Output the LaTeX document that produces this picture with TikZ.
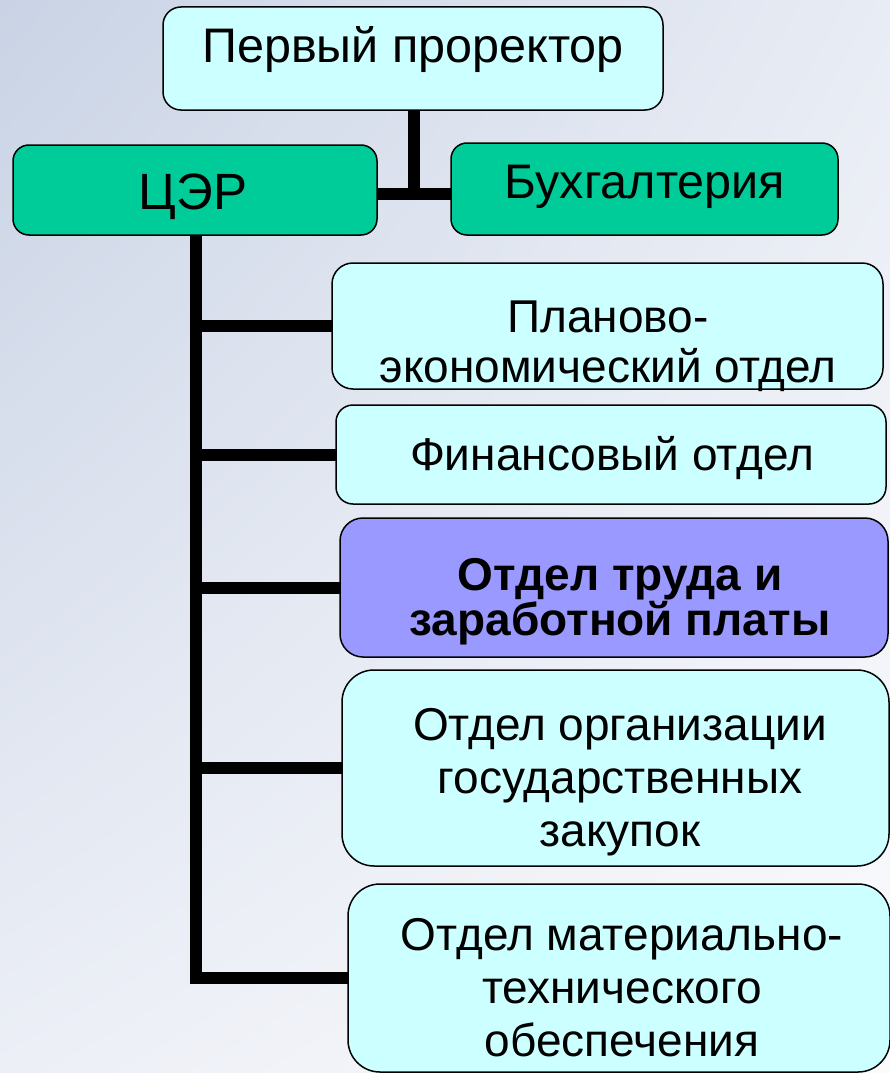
\documentclass[tikz,border=0pt]{standalone}
\usepackage{fontspec}
\setmainfont{Liberation Sans}
\usetikzlibrary{shadings}
\definecolor{cyanbox}{HTML}{CCFFFF}
\definecolor{greenbox}{HTML}{00CC99}
\definecolor{purplebox}{HTML}{9999FF}
\definecolor{bgA}{RGB}{201,211,229}
\definecolor{bgB}{RGB}{232,236,244}
\definecolor{bgC}{RGB}{236,239,246}
\definecolor{bgD}{RGB}{251,251,253}
\begin{document}
\begin{tikzpicture}[x=1pt,y=-1pt,
  box/.style={draw=black,line width=1.5pt,rounded corners=#1,inner sep=0pt,outer sep=0pt,anchor=north west},
  box/.default=18pt,
  lbl/.style={anchor=base,inner sep=0pt,font=\fontsize{46}{53}\selectfont},
  toplbl/.style={anchor=base,inner sep=0pt,font=\fontsize{48.5}{55}\selectfont},
  conn/.style={line width=12pt,black,line join=miter,line cap=butt}]
\useasboundingbox (0,0) rectangle (890,1073);
\shade[upper left=bgA,upper right=bgB,lower left=bgC,lower right=bgD] (0,0) rectangle (890,1073);

% boxes
\node[box=18pt,fill=cyanbox,minimum width=500pt,minimum height=103pt] (pp) at (163,7) {};
\node[box=16pt,fill=greenbox,minimum width=364pt,minimum height=90pt] (cer) at (13,145) {};
\node[box=16pt,fill=greenbox,minimum width=387pt,minimum height=92pt] (buh) at (451,143) {};
\node[box=21pt,fill=cyanbox,minimum width=551pt,minimum height=126pt] (plan) at (332,263) {};
\node[box=17pt,fill=cyanbox,minimum width=550pt,minimum height=99pt] (fin) at (336,405) {};
\node[box=23pt,fill=purplebox,minimum width=548pt,minimum height=139pt] (trud) at (340,518) {};
\node[box=32pt,fill=cyanbox,minimum width=547pt,minimum height=196pt] (org) at (342,670) {};
\node[box=32pt,fill=cyanbox,minimum width=542pt,minimum height=188pt] (mat) at (348,884) {};

% texts
\node[toplbl] (pptxt) at (413,63) {Первый проректор};
\node[toplbl,font=\fontsize{51}{58}\selectfont] (certxt) at (193,209) {ЦЭР};
\node[toplbl] (buhtxt) at (645,198) {Бухгалтерия};
\node[lbl] (plantxt) at (608,332) {\begin{tabular}[t]{@{}c@{}}Планово-\\[-3pt]экономический отдел\end{tabular}};
\node[lbl] (fintxt) at (612,470) {Финансовый отдел};
\node[lbl] (trudtxt) at (620,590) {\bfseries\begin{tabular}[t]{@{}c@{}}Отдел труда и\\[-8pt]заработной платы\end{tabular}};
\node[lbl] (orgtxt) at (620,740) {\begin{tabular}[t]{@{}c@{}}Отдел организации\\государственных\\закупок\end{tabular}};
\node[lbl] (mattxt) at (622,950) {\begin{tabular}[t]{@{}c@{}}Отдел материально-\\технического\\обеспечения\end{tabular}};

% connectors
\coordinate (junc) at (414,194);
\coordinate (trunk) at (196,235);
\draw[conn] (pp.south -| junc) -- (junc);
\draw[conn] (cer.east |- junc) -- (buh.west |- junc);
\draw[conn] (trunk) |- (mat.west);
\draw[conn] (trunk |- plan.west) -- (plan.west);
\draw[conn] (trunk |- fin.west) -- (fin.west);
\draw[conn] (trunk |- trud.west) -- (trud.west);
\draw[conn] (trunk |- org.west) -- (org.west);
\end{tikzpicture}
\end{document}
